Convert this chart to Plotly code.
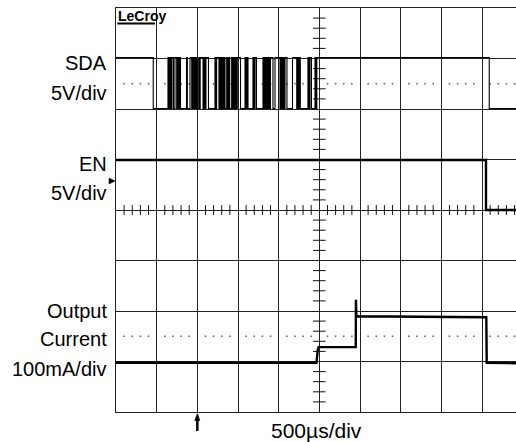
import plotly.graph_objects as go

# ---------------- data ----------------
# time in microseconds measured from the left edge of the screen, 500 us/div
SDA_TRANSITIONS_US = [458,
                      639, 652, 664, 676, 688, 707, 725,
                      746, 759, 771, 783, 793, 867, 877, 910,
                      931, 943, 955, 968, 980, 992, 1000,
                      1017, 1027, 1035, 1070, 1082, 1094, 1106, 1137,
                      1217, 1227, 1237, 1266, 1278, 1291, 1303, 1315, 1328, 1340,
                      1361, 1373, 1386, 1398, 1422, 1435, 1447, 1459, 1472, 1484, 1491,
                      1531, 1586, 1598, 1611, 1623, 1684, 1697, 1709, 1727,
                      1807, 1819, 1832, 1844, 1856, 1869, 1881, 1893, 1899,
                      1930, 1955, 2016, 2029, 2041, 2053, 2066, 2078, 2102, 2170,
                      2222, 2234, 2246, 2258, 2266, 2360, 2373, 2385, 2403,
                      2447, 2459, 2469,
                      4589]
SDA_START_HIGH = True
SDA_HIGH_V = 5.05
SDA_LOW_V = 0.0

EN_TIME_US = [0, 4549, 4549, 4918]
EN_V = [4.95, 4.95, 0.0, 0.0]

OUT_TIME_US = [0, 2465, 2480, 2490, 2948, 2950, 2956, 4553, 4558, 4918]
OUT_MA = [0, 0, 25, 31, 31, 125, 92, 90, 0, -1]

TRIGGER_US = 1000
SCREEN_END_US = 4918
TIME_PER_DIV_US = 500
SDA_V_PER_DIV = 5.0
EN_V_PER_DIV = 5.0
OUT_MA_PER_DIV = 100.0

# channel zero positions (in divisions from the bottom of the screen)
SDA_ZERO_DIV = 6.01
EN_ZERO_DIV = 4.0
OUT_ZERO_DIV = 0.975

# ---------------- layout helpers ----------------
W, H = 516, 442
PL, PT, PW, PH = 116, 8, 400, 404
US_PER_PX = SCREEN_END_US / PW


def px_x(px):
    return (px - PL) / PW


def px_y(py):
    return (PT + PH - py) / PH


# build SDA step trace from transitions
sda_t = [0]
level = SDA_HIGH_V if SDA_START_HIGH else SDA_LOW_V
sda_v = [level]
for t in SDA_TRANSITIONS_US:
    new = SDA_LOW_V if level == SDA_HIGH_V else SDA_HIGH_V
    sda_t += [t, t]
    sda_v += [level, new]
    level = new
sda_t.append(SCREEN_END_US)
sda_v.append(level)

sda_div = [SDA_ZERO_DIV + v / SDA_V_PER_DIV for v in sda_v]
en_div = [EN_ZERO_DIV + v / EN_V_PER_DIV for v in EN_V]
out_div = [OUT_ZERO_DIV + i / OUT_MA_PER_DIV for i in OUT_MA]

fig = go.Figure()

# graticule decorations: dotted reference lines and centre-line minor ticks
minor_x = [k * 100 for k in range(0, 50) if k % 5]
minor_y = [k * 0.2 for k in range(0, 41) if k % 5]
for ylev in (6.5, 1.5):
    fig.add_trace(go.Scatter(x=minor_x, y=[ylev] * len(minor_x), mode="markers",
                             marker=dict(symbol="square", size=1.6, color="#666"),
                             hoverinfo="skip", showlegend=False))
fig.add_trace(go.Scatter(x=minor_x, y=[4.0] * len(minor_x), mode="markers",
                         marker=dict(symbol="line-ns", size=7,
                                     line=dict(width=1, color="#111")),
                         hoverinfo="skip", showlegend=False))
fig.add_trace(go.Scatter(x=[2500] * len(minor_y), y=minor_y, mode="markers",
                         marker=dict(symbol="line-ew", size=9,
                                     line=dict(width=1, color="#111")),
                         hoverinfo="skip", showlegend=False))

# signal traces
fig.add_trace(go.Scatter(x=sda_t, y=sda_div, mode="lines",
                         line=dict(color="black", width=1.1),
                         showlegend=False, name="SDA"))
fig.add_trace(go.Scatter(x=EN_TIME_US, y=en_div, mode="lines",
                         line=dict(color="black", width=2.4),
                         showlegend=False, name="EN"))
fig.add_trace(go.Scatter(x=OUT_TIME_US, y=out_div, mode="lines",
                         line=dict(color="black", width=2.4),
                         showlegend=False, name="Output Current"))

FONT = "Liberation Sans, Arial, sans-serif"
ann = []


def label(text, py, size=20):
    ann.append(dict(text=text, xref="paper", yref="paper", x=px_x(108.5), y=px_y(py),
                    xanchor="right", yanchor="middle", showarrow=False,
                    font=dict(family=FONT, size=size, color="black")))


label("SDA", 63)
label("5V/div", 93.5)
label("EN", 164)
label("5V/div", 193.5)
label("Output", 311)
label("Current", 338.5)
label("100mA/div", 369)

ann.append(dict(text="500µs/div", xref="paper", yref="paper", x=px_x(316), y=px_y(430.5),
                xanchor="center", yanchor="middle", showarrow=False,
                font=dict(family=FONT, size=21, color="black")))
ann.append(dict(text="<b>LeCroy</b>", xref="paper", yref="paper", x=px_x(115.5), y=px_y(16),
                xanchor="left", yanchor="middle", showarrow=False,
                font=dict(family=FONT, size=14, color="black")))

half_head = 2.6 * US_PER_PX
shapes = [
    # LeCroy underline
    dict(type="line", xref="paper", yref="paper", x0=px_x(117.3), x1=px_x(155),
         y0=px_y(23.5), y1=px_y(23.5), line=dict(color="black", width=2)),
    # trigger level marker
    dict(type="path", xref="paper", yref="paper",
         path="M {0} {1} L {2} {3} L {0} {4} Z".format(px_x(109), px_y(178), px_x(115),
                                                       px_y(181), px_y(184)),
         fillcolor="black", line=dict(color="black", width=0.5)),
    # trigger position arrow (shaft + head)
    dict(type="line", xref="x", yref="paper", x0=TRIGGER_US, x1=TRIGGER_US,
         y0=px_y(431), y1=px_y(418), line=dict(color="black", width=2.5)),
    dict(type="path", xref="x", yref="paper",
         path="M {0} {1} L {2} {3} L {4} {1} Z".format(TRIGGER_US - half_head, px_y(420.5),
                                                       TRIGGER_US, px_y(413.5),
                                                       TRIGGER_US + half_head),
         fillcolor="black", line=dict(color="black", width=0.5)),
]

GRID = "#222"
fig.update_layout(
    width=W, height=H,
    margin=dict(l=PL, r=W - PL - PW, t=PT, b=H - PT - PH, pad=0),
    paper_bgcolor="white", plot_bgcolor="white",
    annotations=ann, shapes=shapes,
    xaxis=dict(range=[0, SCREEN_END_US], tick0=0, dtick=TIME_PER_DIV_US,
               showgrid=True, gridcolor=GRID, gridwidth=1, zeroline=False,
               showticklabels=False, ticks="", showline=True, linecolor=GRID,
               linewidth=1, mirror=True, fixedrange=True),
    yaxis=dict(range=[0, 8], tick0=0, dtick=1,
               showgrid=True, gridcolor=GRID, gridwidth=1, zeroline=False,
               showticklabels=False, ticks="", showline=True, linecolor=GRID,
               linewidth=1, mirror=False, fixedrange=True),
)

fig.write_html("out.html", config={"displayModeBar": False},
               post_script="document.body.style.margin='0px';"
                           "document.body.style.overflow='hidden';")
